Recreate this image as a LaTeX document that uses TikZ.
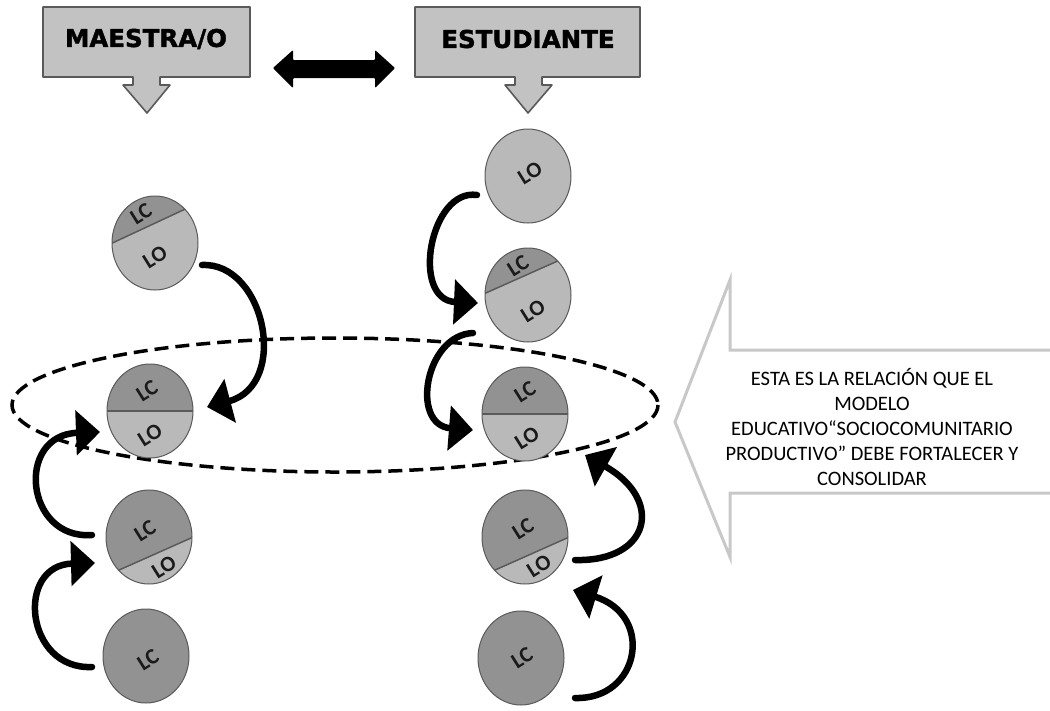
\documentclass[tikz,border=0pt]{standalone}
\usepackage{fontspec}
\setmainfont{Carlito}
\newfontfamily\headfont{DejaVu Sans}[BoldFeatures={FakeBold=1.6}]
\usetikzlibrary{arrows.meta,shapes.geometric}

\definecolor{boxgray}{HTML}{C2C2C2}
\definecolor{edgegray}{HTML}{5A5A5A}
\definecolor{lcgray}{HTML}{929292}
\definecolor{logray}{HTML}{B9B9B9}
\definecolor{pale}{HTML}{C8C8C8}
\definecolor{ink}{HTML}{1A1A1A}

\tikzset{
  headbox/.style={fill=boxgray, draw=edgegray, line width=1.6pt, line join=round},
  headtext/.style={font=\headfont\bfseries\fontsize{24.5}{28}\selectfont, text=black, inner sep=0pt},
  disc/.style={ellipse, draw=edgegray, line width=1pt, minimum width=86pt, minimum height=94pt, inner sep=0pt},
  chord/.style={draw=edgegray, line width=1.5pt},
  tag/.style={font=\bfseries\fontsize{22}{22}\selectfont, text=ink, rotate=32, inner sep=0pt},
  flow/.style={line width=6.5pt, line cap=round, -{Triangle[length=24pt,width=44pt]}},
  ring/.style={line width=3.5pt, dash pattern=on 14pt off 7pt},
  bigarrow/.style={draw=pale, line width=3pt, line join=miter},
  note/.style={font=\fontsize{20.5}{25}\selectfont, align=center, text=black, inner sep=0pt}
}

% disc split by a tilted chord: name, centre, tilt, chord offset (negative = above centre)
\newcommand\splitdisc[4]{%
  \begin{scope}
    \clip (#2) ellipse [x radius=43, y radius=47];
    \fill[logray] (#2) ellipse [x radius=43, y radius=47];
    \begin{scope}[shift={(#2)}, rotate=#3]
      \fill[lcgray] (-70,#4) rectangle (70,-70);
      \draw[chord] (-70,#4) -- (70,#4);
    \end{scope}
  \end{scope}
  \node[disc] (#1) at (#2) {};
}

\begin{document}
\begin{tikzpicture}[x=1pt, y=-1pt]
\useasboundingbox (0,0) rectangle (1050,710);

% header boxes with their down arrows
\draw[headbox] (43,7) -- (250,7) -- (250,77) -- (160,77) -- (160,85) -- (170,85)
  -- (147,113) -- (123,85) -- (133,85) -- (133,77) -- (43,77) -- cycle;
\node[headtext] (maestro) at (146,39) {MAESTRA/O};
\draw[headbox] (415,7) -- (640,7) -- (640,77) -- (542,77) -- (542,85) -- (552,85)
  -- (528,113) -- (505,85) -- (515,85) -- (515,77) -- (415,77) -- cycle;
\node[headtext] (estudiante) at (528,39) {ESTUDIANTE};

% two-way arrow between the headers
\fill[black, rounded corners=1pt] (273,68) -- (293,50) -- (293,60) -- (375,60) -- (375,50)
  -- (395,68) -- (375,88) -- (375,78) -- (293,78) -- (293,88) -- cycle;

% dashed ring around the middle row
\draw[ring] (335,405) ellipse [x radius=323, y radius=67];

% teacher column
\splitdisc{L1}{155,243}{25}{-18}
\splitdisc{L2}{150,411}{0}{0}
\splitdisc{L3}{149,537}{24}{18}
\node[disc, fill=lcgray] (L4) at (146,656) {};

% student column
\node[disc, fill=logray] (R1) at (528,176) {};
\splitdisc{R2}{528,295}{24}{-19}
\splitdisc{R3}{525,414}{0}{0}
\splitdisc{R4}{525,537}{24}{18}
\node[disc, fill=lcgray] (R5) at (521,658) {};

% labels
\node[tag] (L1c) at (141,214) {LC};
\node[tag] (L1o) at (155,257) {LO};
\node[tag] (L2c) at (147,391) {LC};
\node[tag] (L2o) at (150,435) {LO};
\node[tag] (L3c) at (145,531) {LC};
\node[tag] (L3o) at (164,567) {LO};
\node[tag] (L4c) at (148,660) {LC};
\node[tag] (R1o) at (530,173) {LO};
\node[tag] (R2c) at (518,266) {LC};
\node[tag] (R2o) at (533,311) {LO};
\node[tag] (R3c) at (525,392) {LC};
\node[tag] (R3o) at (527,438) {LO};
\node[tag] (R4c) at (523,529) {LC};
\node[tag] (R4o) at (539,566) {LO};
\node[tag] (R5c) at (522,658) {LC};

% curved arrows
\coordinate (a1s) at (202,265); \coordinate (a1e) at (207,407);
\coordinate (a2s) at (92,535);  \coordinate (a2e) at (100,432);
\coordinate (a3s) at (92,667);  \coordinate (a3e) at (95,563);
\coordinate (a4s) at (477,195); \coordinate (a4e) at (478,303);
\coordinate (a5s) at (473,333); \coordinate (a5e) at (473,430);
\coordinate (a6s) at (575,560); \coordinate (a6e) at (585,455);
\coordinate (a7s) at (575,698); \coordinate (a7e) at (573,590);

\draw[flow] (a1s) .. controls (265,262) and (290,385) .. (a1e);
\draw[flow] (a2s) .. controls (25,540) and (15,435) .. (a2e);
\draw[flow] (a3s) .. controls (25,670) and (15,565) .. (a3e);
\draw[flow] (a4s) .. controls (430,188) and (410,300) .. (a4e);
\draw[flow] (a5s) .. controls (425,335) and (410,425) .. (a5e);
\draw[flow] (a6s) .. controls (650,562) and (665,500) .. (a6e);
\draw[flow] (a7s) .. controls (640,700) and (655,615) .. (a7e);

% large outlined arrow with the note
\draw[bigarrow] (1050,350) -- (730,350) -- (730,280) -- (675,422) -- (730,557)
  -- (730,493) -- (1050,493);
\node[note] (note) at (872,427) {ESTA ES LA RELACIÓN QUE EL\\MODELO\\EDUCATIVO“SOCIOCOMUNITARIO\\PRODUCTIVO” DEBE FORTALECER Y\\CONSOLIDAR};

\end{tikzpicture}
\end{document}
